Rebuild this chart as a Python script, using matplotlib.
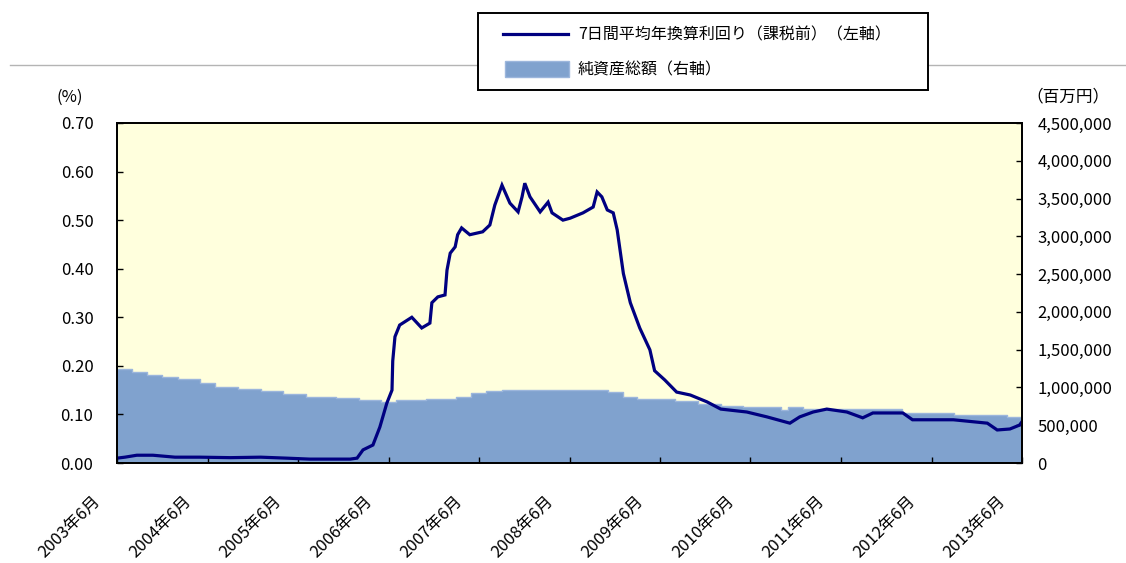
import matplotlib
matplotlib.use('Agg')
import matplotlib.pyplot as plt
import matplotlib.dates as mdates
from matplotlib.patches import Rectangle
from matplotlib.lines import Line2D
from matplotlib.ticker import FuncFormatter, MultipleLocator
from matplotlib.transforms import ScaledTranslation
import pandas as pd

plt.rcParams['font.family'] = ['Noto Sans CJK JP', 'DejaVu Sans']

# ---- data -------------------------------------------------------------
yield_dates = [
    "2003-06-01", "2003-07-03", "2003-08-20", "2003-10-24", "2004-01-21", "2004-05-01",
    "2004-09-01", "2005-01-01", "2005-04-15", "2005-07-18", "2005-12-28", "2006-01-25",
    "2006-02-18", "2006-03-30", "2006-04-27", "2006-05-25", "2006-06-15", "2006-06-18",
    "2006-06-27", "2006-07-16", "2006-09-03", "2006-10-13", "2006-11-15", "2006-11-23",
    "2006-12-17", "2007-01-15", "2007-01-23", "2007-02-05", "2007-02-25", "2007-03-07",
    "2007-03-23", "2007-04-25", "2007-06-16", "2007-07-15", "2007-08-04", "2007-09-02",
    "2007-10-04", "2007-11-06", "2007-11-22", "2007-12-03", "2007-12-24", "2008-02-03",
    "2008-03-06", "2008-03-22", "2008-05-05", "2008-06-03", "2008-07-25", "2008-09-04",
    "2008-09-20", "2008-10-09", "2008-10-31", "2008-11-24", "2008-12-10", "2009-01-04",
    "2009-02-01", "2009-03-11", "2009-04-21", "2009-05-10", "2009-06-20", "2009-08-07",
    "2009-10-01", "2009-12-07", "2010-02-01", "2010-05-17", "2010-08-06", "2010-11-07",
    "2010-12-17", "2011-02-09", "2011-04-05", "2011-06-25", "2011-08-28", "2011-10-08",
    "2012-02-06", "2012-03-16", "2012-08-28", "2013-01-12", "2013-02-21", "2013-04-13",
    "2013-05-22", "2013-06-01",
]
yield_values = [
    0.010, 0.012, 0.016, 0.016, 0.012, 0.012,
    0.011, 0.012, 0.010, 0.008, 0.008, 0.010,
    0.027, 0.037, 0.074, 0.123, 0.150, 0.210,
    0.260, 0.284, 0.300, 0.278, 0.288, 0.330,
    0.342, 0.346, 0.397, 0.432, 0.445, 0.470,
    0.484, 0.470, 0.476, 0.490, 0.531, 0.572,
    0.535, 0.517, 0.548, 0.576, 0.548, 0.517,
    0.537, 0.515, 0.500, 0.504, 0.515, 0.527,
    0.558, 0.548, 0.521, 0.515, 0.480, 0.390,
    0.330, 0.278, 0.233, 0.190, 0.171, 0.146,
    0.140, 0.126, 0.111, 0.105, 0.095, 0.082,
    0.095, 0.105, 0.111, 0.105, 0.093, 0.103,
    0.103, 0.089, 0.089, 0.082, 0.068, 0.070,
    0.078, 0.085,
]

nav_dates = [
    "2003-06-01", "2003-08-01", "2003-10-01", "2003-12-01", "2004-02-01", "2004-05-01",
    "2004-07-01", "2004-10-01", "2005-01-01", "2005-04-01", "2005-07-01", "2005-11-01",
    "2006-02-01", "2006-05-01", "2006-07-01", "2006-11-01", "2007-03-01", "2007-05-01",
    "2007-07-01", "2007-09-01", "2008-09-01", "2008-11-01", "2009-01-01", "2009-03-01",
    "2009-08-01", "2009-11-01", "2010-02-01", "2010-05-01", "2010-10-01", "2010-11-01",
    "2011-01-01", "2011-08-01", "2012-02-01", "2012-09-01", "2013-04-01", "2013-06-01",
]
nav_values = [
    1250000, 1200000, 1170000, 1140000, 1110000, 1060000,
    1010000, 975000, 950000, 910000, 880000, 860000,
    830000, 810000, 830000, 850000, 880000, 930000,
    955000, 965000, 965000, 940000, 880000, 850000,
    820000, 780000, 755000, 740000, 700000, 745000,
    715000, 710000, 665000, 640000, 610000, 595000,
]

x_tick_dates = ["2003-06-01", "2004-06-01", "2005-06-01", "2006-06-01", "2007-06-01", "2008-06-01",
                "2009-06-01", "2010-06-01", "2011-06-01", "2012-06-01", "2013-06-01"]
x_tick_labels = ["2003年6月", "2004年6月", "2005年6月", "2006年6月", "2007年6月", "2008年6月",
                 "2009年6月", "2010年6月", "2011年6月", "2012年6月", "2013年6月"]

line_label = "7日間平均年換算利回り（課税前）（左軸）"
area_label = "純資産総額（右軸）"

# ---- figure -----------------------------------------------------------
W, H = 1126, 563
fig = plt.figure(figsize=(W / 100, H / 100), dpi=100)
fig.patch.set_facecolor('white')

def fx(px):
    return px / W

def fy(py):
    return 1 - py / H

ax = fig.add_axes([fx(117), fy(463), (1022 - 117) / W, (463 - 123) / H])
ax2 = ax.twinx()

ax.set_zorder(ax2.get_zorder() + 1)
ax.patch.set_visible(False)
ax2.patch.set_visible(True)
ax2.patch.set_facecolor('#ffffdd')

yd = pd.to_datetime(yield_dates)
nd = pd.to_datetime(nav_dates)

area_face = '#80a2ce'
area_edge = '#9cb6dc'
line_color = '#000080'

ax2.fill_between(nd, nav_values, step='post', color=area_face, linewidth=0)
ax2.step(nd, nav_values, where='post', color=area_edge, linewidth=1.0)
ax.plot(yd, yield_values, color=line_color, linewidth=2.3, solid_joinstyle='miter')

ax.set_xlim(pd.Timestamp("2003-06-01"), pd.Timestamp("2013-06-01"))
ax.set_ylim(0, 0.70)
ax2.set_ylim(0, 4500000)

ax.yaxis.set_major_locator(MultipleLocator(0.1))
ax.yaxis.set_major_formatter(FuncFormatter(lambda v, p: f"{v:.2f}"))
ax2.yaxis.set_major_locator(MultipleLocator(500000))
ax2.yaxis.set_major_formatter(FuncFormatter(lambda v, p: f"{int(round(v)):,}"))

ax.set_xticks(pd.to_datetime(x_tick_dates))
ax.set_xticklabels(x_tick_labels, rotation=45, ha='right', va='top')

ax.tick_params(axis='y', direction='in', length=4, width=1, pad=17, labelsize=12, colors='black')
ax2.tick_params(axis='y', direction='in', length=4, width=1, pad=11, labelsize=12, colors='black')
ax.tick_params(axis='x', direction='in', length=4, width=1, pad=21, labelsize=12, colors='black')

for lab in ax.get_xticklabels():
    lab.set_transform(lab.get_transform() + ScaledTranslation(-0.13, 0, fig.dpi_scale_trans))

for a in (ax, ax2):
    for s in a.spines.values():
        s.set_linewidth(1.3)
        s.set_color('black')

# axis unit labels
fig.text(fx(70), fy(97), "(%)", ha='center', va='center', fontsize=12)
fig.text(fx(1068), fy(97), "（百万円）", ha='center', va='center', fontsize=12)

# separator line
fig.add_artist(Line2D([fx(10), fx(1126)], [fy(65), fy(65)], color='#b4b4b4', linewidth=1.0, zorder=1))

# legend box (manual)
fig.add_artist(Rectangle((fx(478), fy(90)), (928 - 478) / W, (90 - 13) / H,
                         facecolor='white', edgecolor='black', linewidth=1.4, zorder=5))
fig.add_artist(Line2D([fx(503), fx(568)], [fy(34), fy(34)], color=line_color, linewidth=2.3, zorder=6))
fig.add_artist(Rectangle((fx(505), fy(77)), (569 - 505) / W, (77 - 61) / H,
                         facecolor=area_face, edgecolor=area_edge, linewidth=1.0, zorder=6))
fig.text(fx(578), fy(35), line_label, ha='left', va='center', fontsize=11.5, zorder=7)
fig.text(fx(578), fy(70), area_label, ha='left', va='center', fontsize=11.5, zorder=7)

fig.savefig('out.png', dpi=100, facecolor='white')
